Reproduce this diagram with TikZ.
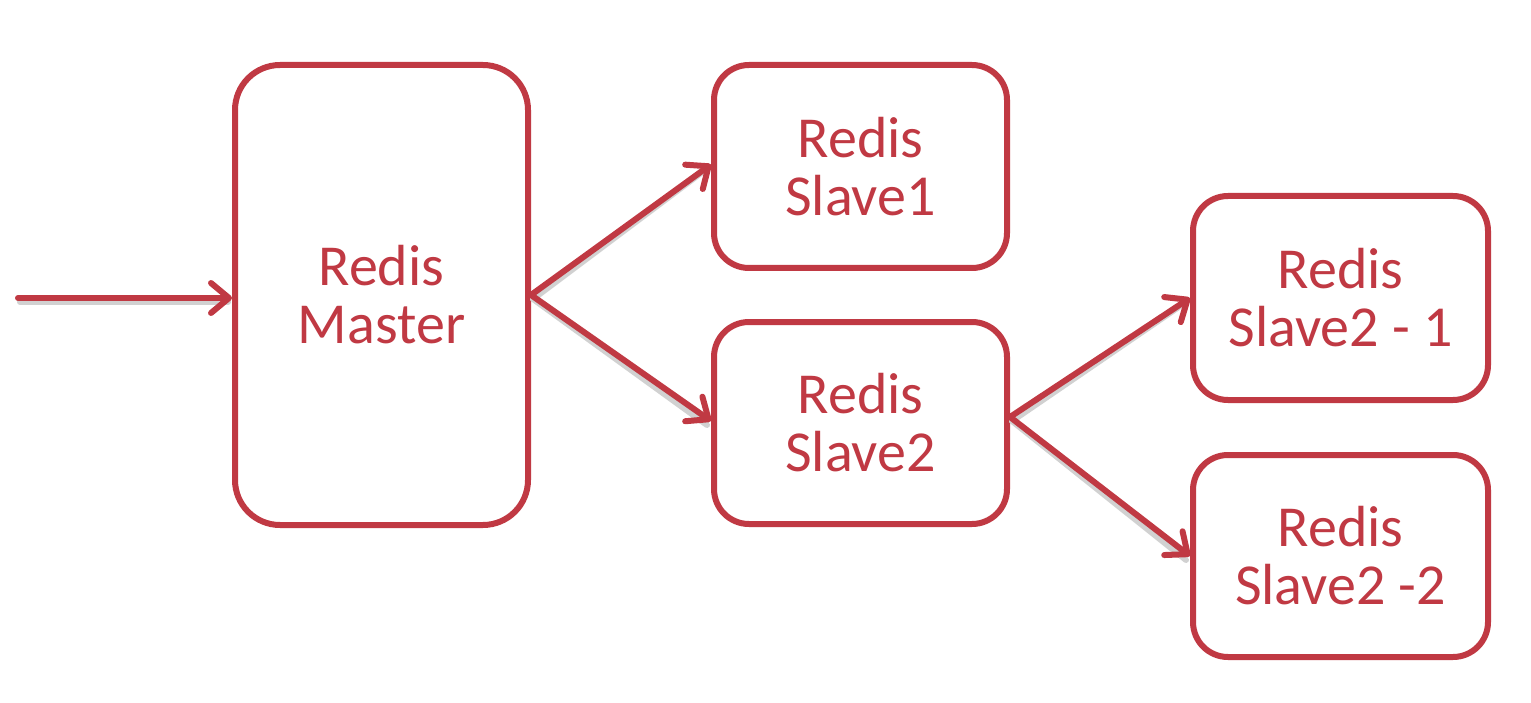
\documentclass[tikz,border=0pt]{standalone}
\usepackage{fontspec}
\setmainfont{Carlito}
\usetikzlibrary{arrows.meta}
\definecolor{rred}{RGB}{192,57,67}
\begin{document}
\begin{tikzpicture}[x=1pt,y=-1pt,
  box/.style={draw=rred, line width=6pt, fill=white, rounded corners=#1, inner sep=0pt, text=rred,
    font=\fontsize{58}{58}\selectfont, align=center},
  conn/.style={draw=rred, line width=6pt, line cap=round,
    -{Straight Barb[length=18pt, width=30pt, line width=6pt, line cap=round, line join=round]}},
  shadowline/.style={draw=black!18, line width=6pt, line cap=round}
]
\useasboundingbox (0,0) rectangle (1531,703);
\node[box=45pt, minimum width=293pt, minimum height=460pt] (master) at (381.5,295) {Redis\\Master};
\node[box=35pt, minimum width=293pt, minimum height=203pt] (s1) at (860.5,166.5) {Redis\\Slave1};
\node[box=35pt, minimum width=293pt, minimum height=202pt] (s2) at (860.5,423) {Redis\\Slave2};
\node[box=35pt, minimum width=295pt, minimum height=204pt] (s21) at (1340.5,298) {Redis\\Slave2 - 1};
\node[box=35pt, minimum width=295pt, minimum height=202pt] (s22) at (1340.5,556) {Redis\\Slave2 -2};
\coordinate (in) at (18,298);
\begin{scope}[transform canvas={shift={(2pt,-4pt)}}]
\draw[shadowline] (in) -- ([xshift=-6pt]master.west |- in);
\draw[shadowline] (master.east) -- ([xshift=-6pt,yshift=2pt]s1.west);
\draw[shadowline] (master.east) -- ([xshift=-6pt,yshift=2pt]s2.west);
\draw[shadowline] ([yshift=6pt]s2.east) -- ([xshift=-6pt]s21.west);
\draw[shadowline] ([yshift=6pt]s2.east) -- ([xshift=-6pt]s22.west);
\end{scope}
\draw[conn] (in) -- (master.west |- in);
\draw[conn] (master.east) -- ([yshift=2pt]s1.west);
\draw[conn] (master.east) -- ([yshift=2pt]s2.west);
\draw[conn] ([yshift=6pt]s2.east) -- (s21.west);
\draw[conn] ([yshift=6pt]s2.east) -- (s22.west);
\end{tikzpicture}
\end{document}
